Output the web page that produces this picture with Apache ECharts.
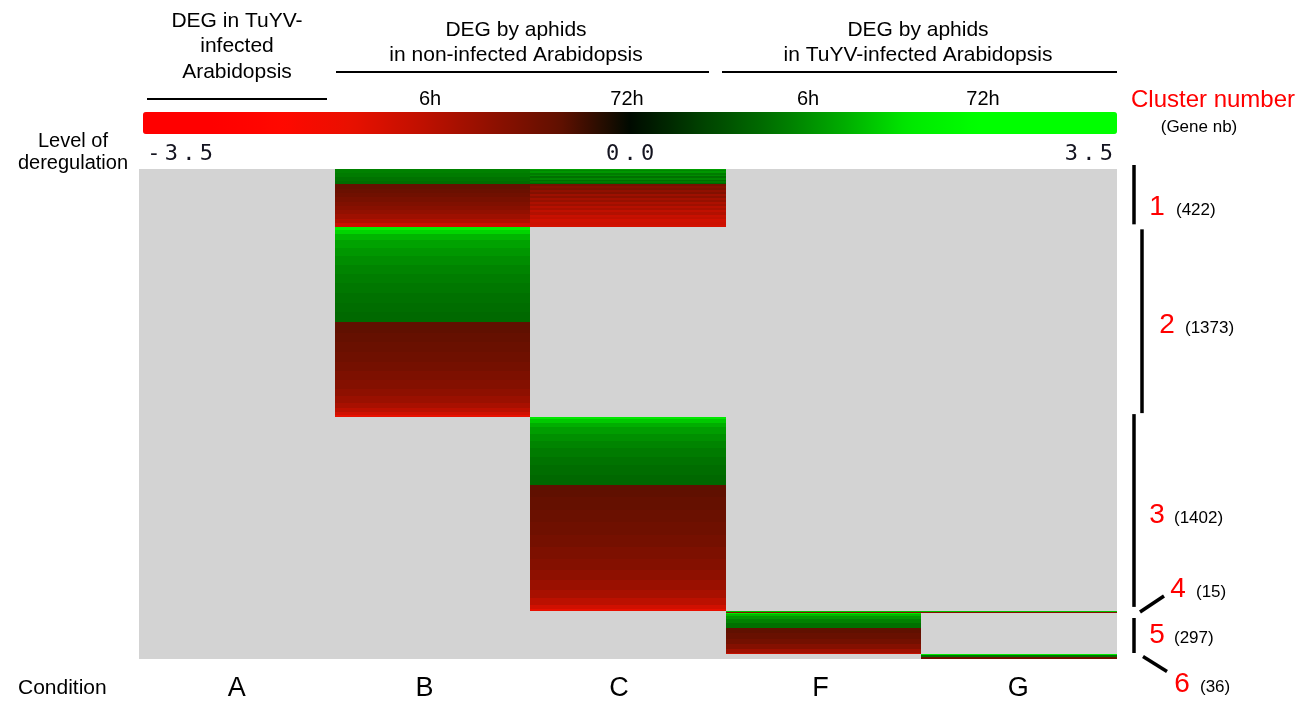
<!DOCTYPE html>
<html>
<head>
<meta charset="utf-8">
<title>Deregulated genes by condition</title>
<script src="https://cdn.jsdelivr.net/npm/echarts@6/dist/echarts.min.js"></script>
<style>
  html, body { margin: 0; padding: 0; background: #ffffff; }
  #chart { width: 1310px; height: 702px; }
</style>
</head>
<body>
<div id="chart"></div>
<script>
// ---- data -------------------------------------------------------------
const conditions = ['A', 'B', 'C', 'F', 'G'];
const clusterIds = ['1', '2', '3', '4', '5', '6'];
const geneCounts = [422, 1373, 1402, 15, 297, 36];
const colorTicks = [-3.5, 0.0, 3.5];
const timepoints = ['6h', '72h', '6h', '72h'];

// Runs of genes inside a cluster, top to bottom: [number of genes, log2 ratio]
const cluster1B = [[28, 1.15], [28, 1.1], [28, 1.02], [28, 0.96],
  [31, -0.55], [31, -0.6], [31, -0.67], [31, -0.75], [31, -0.83],
  [31, -0.92], [31, -1.02], [31, -1.15], [31, -1.32], [31, -1.62]];
const cluster1C = [[10, 1.4], [8, 1.2], [12, 1.35], [10, 1.1], [14, 1.25],
  [10, 1.0], [12, 1.2], [10, 0.95], [14, 1.1], [12, 0.9],
  [14, -0.75], [12, -0.9], [16, -0.8], [10, -1.0], [18, -0.85], [12, -1.15],
  [14, -0.95], [16, -1.2], [12, -1.05], [18, -1.3], [14, -1.15], [16, -1.4],
  [12, -1.25], [18, -1.5], [16, -1.35], [20, -1.6], [14, -1.5], [22, -1.7],
  [16, -1.65], [20, -1.75]];
const cluster2B = [[20, 2.2], [30, 1.85], [45, 1.6], [55, 1.45], [60, 1.35],
  [65, 1.26], [65, 1.18], [65, 1.12], [70, 1.06], [70, 1.01], [70, 0.97], [68, 0.93],
  [80, -0.5], [70, -0.55], [70, -0.6], [70, -0.66], [70, -0.72], [65, -0.8],
  [60, -0.88], [55, -0.98], [45, -1.1], [40, -1.25], [30, -1.45], [20, -1.7], [15, -2.0]];
const cluster3C = [[15, 2.0], [25, 1.75], [35, 1.55], [45, 1.4], [50, 1.28],
  [55, 1.18], [60, 1.1], [65, 1.03], [70, 0.97], [71, 0.92],
  [90, -0.5], [90, -0.55], [90, -0.6], [90, -0.66], [90, -0.72], [85, -0.8],
  [80, -0.88], [75, -0.98], [70, -1.1], [60, -1.25], [50, -1.45], [30, -1.7], [11, -2.0]];
const cluster4F = [[8, 1.7], [7, -0.9]];
const cluster4G = [[8, 1.7], [7, -0.9]];
const cluster5F = [[10, 2.0], [15, 1.6], [20, 1.35], [25, 1.15], [36, 1.0],
  [40, -0.5], [40, -0.58], [40, -0.7], [35, -0.88], [25, -1.15], [11, -1.55]];
const cluster6G = [[10, 2.0], [8, 1.0], [18, -0.6]];

// which cluster / condition each run list belongs to
const blocks = [
  [0, 'B', cluster1B], [0, 'C', cluster1C],
  [1, 'B', cluster2B], [2, 'C', cluster3C],
  [3, 'F', cluster4F], [3, 'G', cluster4G],
  [4, 'F', cluster5F], [5, 'G', cluster6G]
];

// ---- derived rows -----------------------------------------------------
const clusterStart = [];
let acc = 0;
geneCounts.forEach(function (n) { clusterStart.push(acc); acc += n; });
const totalGenes = acc;

const cells = [];
blocks.forEach(function (b) {
  const col = conditions.indexOf(b[1]);
  let s = clusterStart[b[0]];
  b[2].forEach(function (run) {
    cells.push([col, s, s + run[0], run[1]]);
    s += run[0];
  });
});

const clusterRows = geneCounts.map(function (n, i) {
  return [clusterStart[i], clusterStart[i] + n, n];
});

// ---- layout -----------------------------------------------------------
const SANS = '"Liberation Sans", Arial, sans-serif';
const MONO = '"DejaVu Sans Mono", "Liberation Mono", monospace';
const GRID = { left: 139, top: 169, width: 978, height: 490 };
const BAR = { left: 143, top: 112, length: 974, thick: 22 };

// bracket drawn beside each cluster (pixel offsets from the cluster's edges)
const bracketLayout = [
  { kind: 'bar', x: 1134, d0: -4, d1: -3, numX: 1157, numDy: 9, cntX: 1176 },
  { kind: 'bar', x: 1142, d0: 2, d1: -4, numX: 1167, numDy: 3, cntX: 1185 },
  { kind: 'bar', x: 1134, d0: -3, d1: -4, numX: 1157, numDy: 1, cntX: 1174 },
  { kind: 'up', x: 1140, d0: 0, d1: -16, numX: 1178, numDy: -23, cntX: 1196 },
  { kind: 'bar', x: 1134, d0: 5, d1: -1, numX: 1157, numDy: 2, cntX: 1174 },
  { kind: 'down', x: 1143, d0: 0, d1: 15, numX: 1182, numDy: 28, cntX: 1200 }
];

// small horizontal nudges of the condition labels (px, negative = left)
const conditionLabelShift = { A: 0, B: -8, C: -9, F: -3, G: -1 };

function colorRamp() {
  // -3.5 ... 3.5 in steps of 0.5
  return ['#ff0000', '#ff0000', '#ff0800', '#e81000', '#c01000', '#901000',
    '#601000', '#000a00', '#004000', '#007000', '#00a800', '#00e800',
    '#00ff00', '#00ff00', '#00ff00'];
}

// monospaced tick labels with wide character spacing
function tickText(v, i) {
  const str = v.toFixed(1);
  const adv = 17.5;
  const x = BAR.left + (v - colorTicks[0]) / (colorTicks[colorTicks.length - 1] - colorTicks[0]) * BAR.length;
  let start;
  if (i === 0) start = x + 2;
  else if (i === colorTicks.length - 1) start = x - 2 - str.length * adv;
  else start = x - str.length * adv / 2;
  return str.split('').map(function (ch, k) {
    return {
      type: 'text', x: start + (k + 0.5) * adv, y: 154, silent: true,
      style: { text: ch, font: '22px ' + MONO, fill: '#141420',
        textAlign: 'center', textVerticalAlign: 'middle' }
    };
  });
}

function label(text, x, y, size, opts) {
  opts = opts || {};
  return {
    type: 'text', x: x, y: y, silent: true,
    style: {
      text: text, font: size + 'px ' + SANS, fill: opts.fill || '#000',
      textAlign: opts.align || 'center', textVerticalAlign: 'middle',
      lineHeight: opts.lineHeight || size
    }
  };
}

function hline(x1, x2, y) {
  return {
    type: 'line', silent: true,
    shape: { x1: x1, y1: y, x2: x2, y2: y },
    style: { stroke: '#000', lineWidth: 2 }
  };
}

const timeX = [430, 627, 808, 983];

const graphics = [
  label('DEG in TuYV-\ninfected\nArabidopsis', 237, 46.5, 21, { lineHeight: 25.5 }),
  label('DEG by aphids\nin non-infected Arabidopsis', 516, 42.5, 21, { lineHeight: 25 }),
  label('DEG by aphids\nin TuYV-infected Arabidopsis', 918, 42.5, 21, { lineHeight: 25 }),
  hline(147, 327, 99), hline(336, 709, 72), hline(722, 1117, 72),
  label('Cluster number', 1213, 100, 24, { fill: '#ff0000' }),
  label('(Gene nb)', 1199, 127, 17),
  label('Level of\nderegulation', 73, 152, 20, { lineHeight: 22 }),
  label('Condition', 18, 688, 21, { align: 'left' })
].concat(timepoints.map(function (t, i) { return label(t, timeX[i], 99, 20); }));
colorTicks.forEach(function (v, i) { Array.prototype.push.apply(graphics, tickText(v, i)); });

const conditionRich = {};
conditions.forEach(function (c) {
  const s = conditionLabelShift[c] || 0;
  conditionRich[c] = {
    fontSize: 27, fontFamily: SANS, color: '#000',
    padding: s < 0 ? [0, -2 * s, 0, 0] : [0, 0, 0, 2 * s]
  };
});

// ---- chart ------------------------------------------------------------
const chart = echarts.init(document.getElementById('chart'), null, { renderer: 'canvas' });

chart.setOption({
  animation: false,
  backgroundColor: '#ffffff',
  grid: {
    left: GRID.left, top: GRID.top, width: GRID.width, height: GRID.height,
    show: true, backgroundColor: '#d3d3d3', borderWidth: 0
  },
  xAxis: {
    type: 'category', data: conditions, position: 'bottom',
    axisLine: { show: false }, axisTick: { show: false }, splitLine: { show: false },
    axisLabel: {
      margin: 16,
      formatter: function (v) { return '{' + v + '|' + v + '}'; },
      rich: conditionRich
    }
  },
  yAxis: {
    type: 'value', min: 0, max: totalGenes, inverse: true, show: false
  },
  visualMap: {
    type: 'continuous', min: -3.5, max: 3.5, orient: 'horizontal',
    left: BAR.left, top: BAR.top, itemWidth: BAR.thick, itemHeight: BAR.length,
    padding: 0, calculable: false, hoverLink: false, showLabel: false,
    seriesIndex: 0, dimension: 3,
    inRange: { color: colorRamp() }
  },
  series: [
    {
      type: 'custom', name: 'expression',
      coordinateSystem: 'cartesian2d',
      encode: { x: 0, y: [1, 2] },
      data: cells,
      renderItem: function (params, api) {
        const col = api.value(0);
        const p0 = api.coord([col, api.value(1)]);
        const p1 = api.coord([col, api.value(2)]);
        const w = api.size([1, 0])[0];
        const x0 = Math.round(p0[0] - w / 2);
        const x1 = Math.round(p0[0] + w / 2);
        const y0 = Math.round(p0[1]);
        const y1 = Math.round(p1[1]);
        return {
          type: 'rect',
          shape: { x: x0, y: y0, width: x1 - x0, height: Math.max(1, y1 - y0) },
          style: { fill: api.visual('color') }
        };
      }
    },
    {
      type: 'custom', name: 'clusters',
      coordinateSystem: 'cartesian2d',
      encode: { y: [0, 1] },
      clip: false, silent: true,
      data: clusterRows,
      renderItem: function (params, api) {
        const i = params.dataIndex;
        const lay = bracketLayout[i];
        const yTop = api.coord([0, api.value(0)])[1];
        const yBot = api.coord([0, api.value(1)])[1];
        const yMid = (yTop + yBot) / 2;
        let shape;
        if (lay.kind === 'bar') {
          shape = { x1: lay.x, y1: yTop + lay.d0, x2: lay.x, y2: yBot + lay.d1 };
        } else {
          shape = { x1: lay.x, y1: yMid + lay.d0, x2: lay.x + 24, y2: yMid + lay.d1 };
        }
        const ny = yMid + lay.numDy;
        return {
          type: 'group',
          children: [
            { type: 'line', shape: shape, style: { stroke: '#000', lineWidth: 3.5 } },
            { type: 'text', style: { text: clusterIds[i], x: lay.numX, y: ny,
              font: '28px ' + SANS, fill: '#ff0000', textAlign: 'center', textVerticalAlign: 'middle' } },
            { type: 'text', style: { text: '(' + api.value(2) + ')', x: lay.cntX, y: ny + 3,
              font: '17px ' + SANS, fill: '#000', textAlign: 'left', textVerticalAlign: 'middle' } }
          ]
        };
      }
    }
  ],
  graphic: graphics
});
</script>
</body>
</html>
